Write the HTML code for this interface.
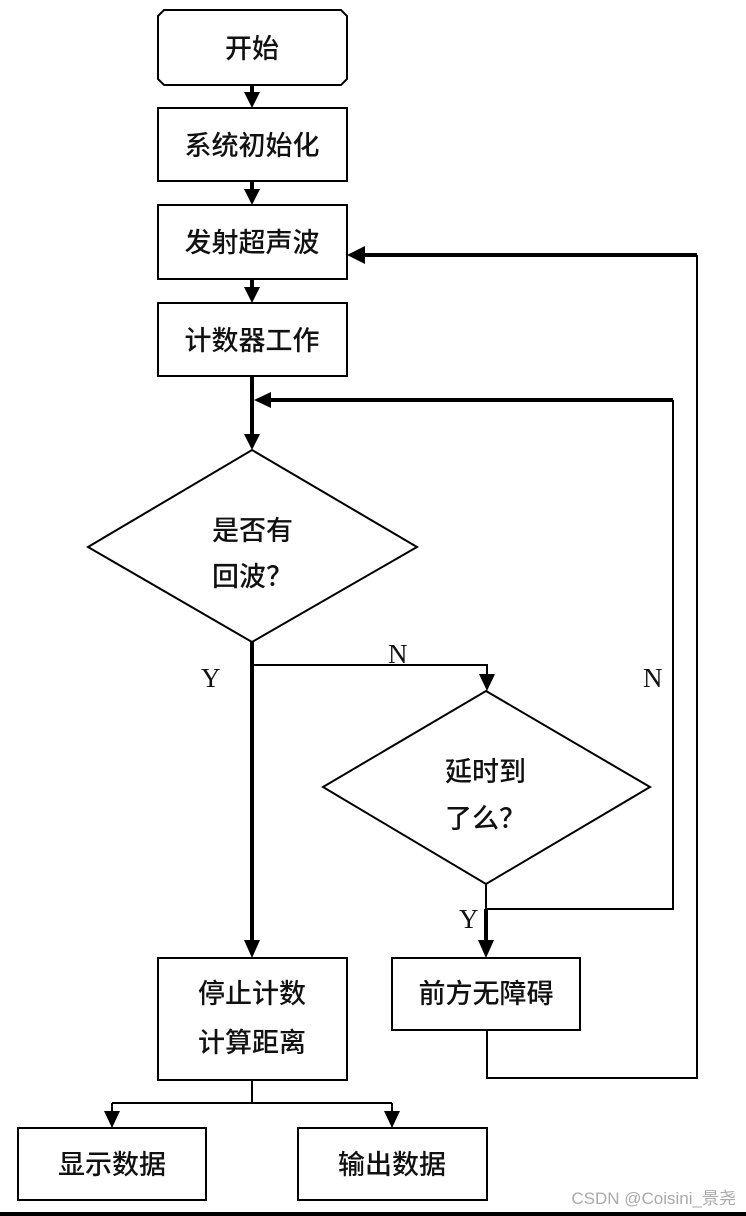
<!DOCTYPE html>
<html><head><meta charset="utf-8"><style>
html,body{margin:0;padding:0;background:#fff;}
svg{display:block;}
text{font-family:"Liberation Sans","Noto Sans CJK SC",sans-serif;fill:#111;}
.c text{font-size:27px;font-weight:500;}
.l text{font-family:"Liberation Serif",serif;font-size:27px;}
</style></head><body>
<svg width="746" height="1216" viewBox="0 0 746 1216" xmlns="http://www.w3.org/2000/svg">
<g fill="none" stroke="#000" stroke-width="2">
<path d="M164,10 H341 L347,16 V79 L341,85 H164 L158,79 V16 Z"/>
<rect x="158" y="108" width="189" height="73"/>
<rect x="158" y="205" width="189" height="74"/>
<rect x="158" y="303" width="189" height="73"/>
<polygon points="252,450 417,547 252,642 88,547"/>
<polygon points="486,691 650,787 486,884 323,787"/>
<rect x="158" y="958" width="189" height="122"/>
<rect x="392" y="958" width="188" height="72"/>
<rect x="18" y="1128" width="188" height="72"/>
<rect x="298" y="1128" width="189" height="72"/>
<polyline points="252,665 487,665 487,680"/>
<polyline points="486,884 486,909 673,909 673,400"/>
<polyline points="487,1030 487,1078 697,1078 697,255"/>
<polyline points="252,1080 252,1103"/>
<polyline points="112,1103 392,1103"/>
<line x1="112" y1="1103" x2="112" y2="1115"/>
<line x1="392" y1="1103" x2="392" y2="1115"/>
</g>
<g fill="none" stroke="#000" stroke-width="4">
<line x1="252" y1="85" x2="252" y2="96"/>
<line x1="252" y1="181" x2="252" y2="193"/>
<line x1="252" y1="279" x2="252" y2="291"/>
<line x1="252" y1="376" x2="252" y2="438"/>
<line x1="697" y1="255" x2="362" y2="255"/>
<line x1="673" y1="400" x2="268" y2="400"/>
<line x1="252" y1="642" x2="252" y2="945"/>
<line x1="486" y1="909" x2="486" y2="945"/>
</g>
<g fill="#000">
<polygon points="244,92 260,92 252,108"/>
<polygon points="244,189 260,189 252,205"/>
<polygon points="244,287 260,287 252,303"/>
<polygon points="244,434 260,434 252,450"/>
<polygon points="347,255 365,246 365,264"/>
<polygon points="254,400 271,392 271,408"/>
<polygon points="244,940 260,940 252,958"/>
<polygon points="479,674 495,674 487,691"/>
<polygon points="478,940 494,940 486,958"/>
<polygon points="104,1111 120,1111 112,1128"/>
<polygon points="384,1111 400,1111 392,1128"/>
</g>
<rect x="0" y="1212" width="746" height="4" fill="#000"/>
<g class="c" text-anchor="middle">
<text x="252" y="58">开始</text>
<text x="252" y="155">系统初始化</text>
<text x="252" y="252">发射超声波</text>
<text x="252" y="350">计数器工作</text>
<text x="252" y="1003">停止计数</text>
<text x="252" y="1052">计算距离</text>
<text x="486" y="1003">前方无障碍</text>
<text x="112" y="1174">显示数据</text>
<text x="392" y="1174">输出数据</text>
</g>
<g class="c">
<text x="212" y="540">是否有</text>
<text x="212" y="586">回波？</text>
<text x="445" y="781">延时到</text>
<text x="445" y="828">了么？</text>
</g>
<g class="l">
<text x="201" y="687">Y</text>
<text x="388" y="663">N</text>
<text x="643" y="687">N</text>
<text x="459" y="928">Y</text>
</g>
<text x="736" y="1204" text-anchor="end" style="font-size:17px;fill:#aaa;">CSDN @Coisini_景尧</text>
</svg>
</body></html>
